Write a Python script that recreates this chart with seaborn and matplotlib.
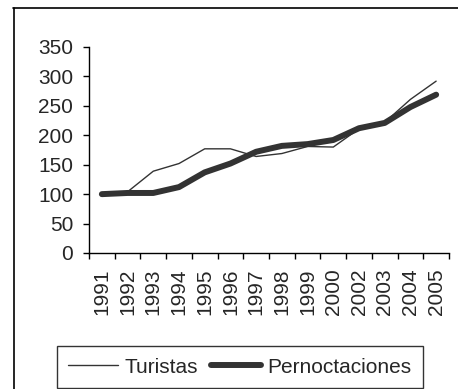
import matplotlib
matplotlib.use("Agg")
import matplotlib.pyplot as plt
from matplotlib.lines import Line2D
import seaborn as sns
import numpy as np
import pandas as pd

years = ["1991", "1992", "1993", "1994", "1995", "1996", "1997",
         "1998", "1999", "2000", "2002", "2003", "2004", "2005"]
turistas = [100, 104, 139, 152, 177, 177, 164, 169, 181, 180, 211, 222, 261, 292]
pernoctaciones = [100, 102, 102, 112, 137, 152, 172, 182, 185, 192, 212, 221, 248, 269]

sns.set_theme(style="white")
plt.rcParams["font.family"] = ["Liberation Sans", "DejaVu Sans"]

df = pd.DataFrame({
    "pos": np.arange(len(years)),
    "Turistas": turistas,
    "Pernoctaciones": pernoctaciones,
})

W, H = 458, 389
FS = 15
fig = plt.figure(figsize=(W / 100, H / 100), dpi=100)
ax = fig.add_axes([89 / W, 1 - 253 / H, (449 - 89) / W, (253 - 47) / H])

line_col = "#333333"
sns.lineplot(data=df, x="pos", y="Turistas", ax=ax, color=line_col,
             linewidth=1.0, label="Turistas", legend=False)
sns.lineplot(data=df, x="pos", y="Pernoctaciones", ax=ax, color=line_col,
             linewidth=4.3, label="Pernoctaciones", legend=False,
             solid_capstyle="round")

ax.set_xlim(-0.5, len(years) - 0.5)
ax.set_ylim(0, 350)
ax.set_yticks(range(0, 351, 50))
ax.set_xticks(np.arange(-0.5, len(years), 1.0))
ax.set_xticklabels([])
ax.set_xticks(np.arange(len(years)), minor=True)
ax.set_xticklabels(years, minor=True, rotation=90)
ax.set_xlabel("")
ax.set_ylabel("")

for s in ["top", "right"]:
    ax.spines[s].set_visible(False)
for s in ["left", "bottom"]:
    ax.spines[s].set_color("black")
    ax.spines[s].set_linewidth(1.0)

ax.tick_params(axis="y", which="major", direction="out", length=4.3, width=1,
               color="black", labelsize=FS, pad=7, left=True)
ax.tick_params(axis="x", which="major", direction="out", length=4.3, width=1,
               color="black", bottom=True)
ax.tick_params(axis="x", which="minor", length=0, labelsize=FS, pad=11)

# outer frame of the chart area
fig.add_artist(Line2D([13.5 / W, 13.5 / W], [0, 1 - 7.5 / H],
                      transform=fig.transFigure, color="black", lw=1.2))
fig.add_artist(Line2D([13 / W, 1], [1 - 7.5 / H, 1 - 7.5 / H],
                      transform=fig.transFigure, color="black", lw=1.2))

handles = [Line2D([], [], color=line_col, lw=1.0),
           Line2D([], [], color=line_col, lw=4.3)]
leg = fig.legend(handles, ["Turistas", "Pernoctaciones"], ncol=2,
                 loc="lower left",
                 bbox_to_anchor=(57 / W, 1 / H), bbox_transform=fig.transFigure,
                 fontsize=FS, handlelength=2.4, handletextpad=0.3,
                 columnspacing=0.6, borderpad=0.55, borderaxespad=0,
                 fancybox=False, frameon=True)
leg.get_frame().set_edgecolor("black")
leg.get_frame().set_linewidth(1.0)

fig.savefig("out.png", dpi=100)
